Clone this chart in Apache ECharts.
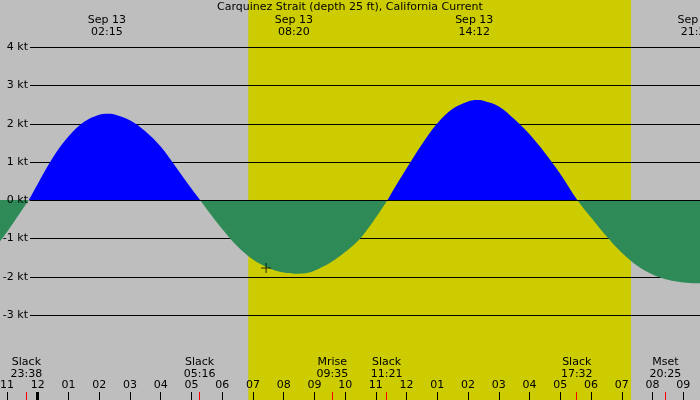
<!DOCTYPE html>
<html>
<head>
    <meta charset="utf-8"/>
    <script src="https://cdn.jsdelivr.net/npm/echarts@6/dist/echarts.min.js"></script>
    <style>
        html, body { margin: 0; padding: 0; background: #bebebe; }
        #container { width: 700px; height: 400px; }
    </style>
</head>
<body>
<div id="container"></div>
<script type="text/javascript">
    // hours since Sep 13 00:00 and current speed in knots (flood +, ebb -)
    var flowHours = [-1.25, -1.0, -0.75, -0.5, -0.29, 0.0, 0.5, 1.0, 1.5, 2.0, 2.25, 2.5, 3.0, 3.5, 4.0, 4.5, 5.0, 5.28,
        5.5, 6.0, 6.5, 7.0, 7.5, 8.0, 8.38, 8.75, 9.0, 9.5, 10.0, 10.5, 11.0, 11.38,
        11.5, 12.0, 12.5, 13.0, 13.5, 14.0, 14.26, 14.5, 15.0, 15.5, 16.0, 16.5, 17.0, 17.55,
        18.0, 18.5, 19.0, 19.5, 20.0, 20.5, 21.0, 21.4, 21.75];
    var flowKnots = [-1.11, -0.84, -0.55, -0.25, 0, 0.42, 1.12, 1.66, 2.04, 2.23, 2.26, 2.24, 2.09, 1.80, 1.40, 0.86, 0.30, 0,
        -0.24, -0.76, -1.22, -1.56, -1.78, -1.90, -1.93, -1.91, -1.85, -1.65, -1.36, -1.0, -0.46, 0,
        0.17, 0.83, 1.46, 2.01, 2.39, 2.58, 2.62, 2.60, 2.45, 2.12, 1.72, 1.23, 0.68, 0,
        -0.46, -0.95, -1.38, -1.72, -1.95, -2.09, -2.16, -2.18, -2.17];

    var peakDates = ['Sep 13', 'Sep 13', 'Sep 13', 'Sep 13'];
    var peakTimes = ['02:15', '08:20', '14:12', '21:26'];

    var eventNames = ['Slack', 'Slack', 'Mrise', 'Slack', 'Slack', 'Mset'];
    var eventTimes = ['23:38', '05:16', '09:35', '11:21', '17:32', '20:25'];
    var eventDays = [-1, 0, 0, 0, 0, 0];

    var hourTicks = [-1, 0, 1, 2, 3, 4, 5, 6, 7, 8, 9, 10, 11, 12, 13, 14, 15, 16, 17, 18, 19, 20, 21];
    var hourLabels = ['11', '12', '01', '02', '03', '04', '05', '06', '07', '08', '09', '10',
        '11', '12', '01', '02', '03', '04', '05', '06', '07', '08', '09'];
    var midnightTicks = [0];

    var sunTimes = ['06:51', '19:18'];
    var knotMin = -3, knotMax = 4;
    var nowMark = [7.43, -1.78];

    var xMin = -1.226, xMax = 21.543;
    var font = 'DejaVu Sans';

    function toHours(t, day) {
        var p = t.split(':');
        return (day || 0) * 24 + (+p[0]) + (+p[1]) / 60;
    }

    function nearest(list, v) {
        var best = 0;
        for (var i = 1; i < list.length; i++) {
            if (Math.abs(list[i] - v) < Math.abs(list[best] - v)) best = i;
        }
        return best;
    }

    var flowData = [];
    for (var i = 0; i < flowHours.length; i++) {
        flowData.push([flowHours[i], flowKnots[i]]);
    }
    var peakHours = peakTimes.map(function (t) { return toHours(t, 0); });
    var eventHours = eventTimes.map(function (t, i) { return toHours(t, eventDays[i]); });
    var sunrise = toHours(sunTimes[0]), sunset = toHours(sunTimes[1]);

    var txt = {color: '#000', fontFamily: font, fontSize: 11, lineHeight: 12};

    var dom = document.getElementById("container");
    var myChart = echarts.init(dom);
    var option = {
        animation: false,
        backgroundColor: '#bebebe',
        title: {
            text: 'Carquinez Strait (depth 25 ft), California Current',
            left: 'center',
            top: 1,
            padding: 0,
            textStyle: {color: '#000', fontFamily: font, fontSize: 11, fontWeight: 'normal', lineHeight: 12}
        },
        grid: [
            {left: 0, right: 0, top: 0, bottom: 0, outerBoundsMode: 'none'},
            {left: 30, right: 0, top: 47.3, height: 267.7, outerBoundsMode: 'none'}
        ],
        visualMap: {
            show: false,
            type: 'piecewise',
            seriesIndex: 1,
            dimension: 1,
            pieces: [
                {gte: -10, lt: 0, color: '#2e8b57'},
                {gte: 0, lte: 10, color: '#0000ff'}
            ]
        },
        xAxis: [
            {
                gridIndex: 0, type: 'value', min: xMin, max: xMax, position: 'bottom', z: 5,
                axisLine: {show: false, onZero: false},
                splitLine: {show: false},
                axisTick: {show: true, inside: true, length: 8, customValues: hourTicks,
                    lineStyle: {color: '#000', width: 1}},
                axisLabel: Object.assign({
                    inside: true, margin: 9, customValues: hourTicks,
                    formatter: function (v) { return hourLabels[nearest(hourTicks, v)]; }
                }, txt)
            },
            {
                gridIndex: 0, type: 'value', min: xMin, max: xMax, position: 'bottom', z: 5,
                axisLine: {show: false, onZero: false},
                splitLine: {show: false},
                axisTick: {show: true, inside: true, length: 8, customValues: eventHours,
                    lineStyle: {color: '#ff0000', width: 1}},
                axisLabel: Object.assign({
                    inside: true, margin: 20, customValues: eventHours,
                    formatter: function (v) {
                        var k = nearest(eventHours, v);
                        return eventNames[k] + '\n' + eventTimes[k];
                    }
                }, txt)
            },
            {
                gridIndex: 0, type: 'value', min: xMin, max: xMax, position: 'bottom', z: 5,
                axisLine: {show: false, onZero: false},
                splitLine: {show: false},
                axisTick: {show: true, inside: true, length: 8, customValues: midnightTicks,
                    lineStyle: {color: '#000', width: 3}},
                axisLabel: {show: false}
            },
            {
                gridIndex: 0, type: 'value', min: xMin, max: xMax, position: 'top', z: 5,
                axisLine: {show: false, onZero: false},
                splitLine: {show: false},
                axisTick: {show: false},
                axisLabel: Object.assign({
                    inside: true, margin: 14, customValues: peakHours,
                    formatter: function (v) {
                        var k = nearest(peakHours, v);
                        return peakDates[k] + '\n' + peakTimes[k];
                    }
                }, txt)
            },
            {
                gridIndex: 1, type: 'value', min: 0, max: 1, z: 4,
                axisLine: {show: true, onZero: true, lineStyle: {color: '#000', width: 1}},
                axisTick: {show: false},
                axisLabel: {show: false},
                splitLine: {show: false}
            }
        ],
        yAxis: [
            {gridIndex: 0, type: 'value', min: -5.237, max: 5.237, show: false},
            {
                gridIndex: 1, type: 'value', position: 'left', min: knotMin, max: knotMax, interval: 1, z: 2,
                axisLine: {show: false}, axisTick: {show: false}, axisLabel: {show: false},
                splitLine: {show: true, lineStyle: {color: '#000', width: 1}}
            },
            {
                gridIndex: 1, type: 'value', position: 'left', min: knotMin, max: knotMax, interval: 1, z: 4,
                axisLine: {show: false}, axisTick: {show: false}, splitLine: {show: false},
                axisLabel: Object.assign({margin: 2, formatter: '{value} kt'}, txt)
            }
        ],
        series: [
            {
                name: 'daylight',
                type: 'line',
                xAxisIndex: 0, yAxisIndex: 0, z: 1,
                silent: true,
                symbol: 'none',
                lineStyle: {width: 0},
                data: [[sunrise, 0], [sunset, 0]],
                markArea: {
                    silent: true, z: 1,
                    itemStyle: {color: '#cccc00'},
                    data: [[{xAxis: sunrise}, {xAxis: sunset}]]
                }
            },
            {
                name: 'current',
                type: 'line',
                xAxisIndex: 0, yAxisIndex: 0, z: 3,
                smooth: 0.35,
                symbol: 'none',
                lineStyle: {width: 0},
                areaStyle: {opacity: 1},
                data: flowData
            },
            {
                name: 'now',
                type: 'scatter',
                xAxisIndex: 0, yAxisIndex: 0, z: 6,
                symbol: 'path://M4.5,0h1v10h-1zM0,4.5h10v1h-10z',
                symbolSize: 10,
                itemStyle: {color: '#000'},
                data: [nowMark]
            }
        ]
    };

    if (option && typeof option === "object") {
        myChart.setOption(option, true);
    }
</script>
</body>
</html>
